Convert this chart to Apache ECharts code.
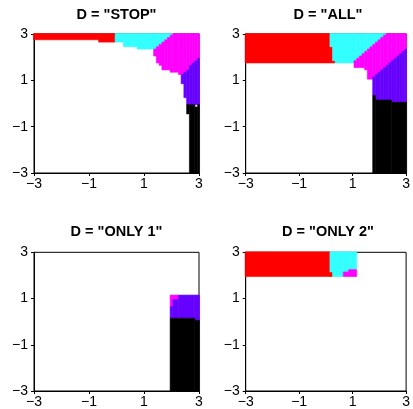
<!DOCTYPE html>
<html>
<head>
<meta charset="utf-8">
<script src="https://cdn.jsdelivr.net/npm/echarts@6/dist/echarts.min.js"></script>
<style>
html,body{margin:0;padding:0;background:#fff;}
#chart{width:413px;height:409px;}
</style>
</head>
<body>
<div id="chart"></div>
<script>
// ---- data (cell centres on a 0.1 grid; each run = [xFrom, xTo, yLow, yHigh]) ----
const PANEL_TITLES = ['D = "STOP"', 'D = "ALL"', 'D = "ONLY 1"', 'D = "ONLY 2"'];
const TICKS = [-3, -1, 1, 3];
const AXIS_MIN = -3, AXIS_MAX = 3, TICK_STEP = 2, CELL = 0.1;
const COLOR_NAMES = ['red', 'cyan', 'magenta', 'purple', 'black'];

const STOP_red = [[-3.0,-0.7,2.8,3.0],[-0.6,-0.1,2.7,3.0]];
const STOP_cyan = [[0.0,0.2,2.7,3.0],[0.3,0.7,2.5,3.0],[0.8,1.4,2.4,3.0],[1.5,1.5,2.5,3.0],[1.6,1.6,2.6,3.0],
  [1.7,1.7,2.7,3.0],[1.8,1.8,2.8,3.0],[1.9,1.9,2.9,3.0],[2.0,2.0,3.0,3.0]];
const STOP_magenta = [[1.4,1.4,2.1,2.3],[1.5,1.5,1.8,2.4],[1.6,1.6,1.7,2.5],[1.7,1.7,1.5,2.6],[1.8,1.8,1.5,2.7],
  [1.9,1.9,1.5,2.8],[2.0,2.0,1.4,2.9],[2.1,2.2,1.4,3.0],[2.3,2.4,1.3,3.0],[2.5,2.5,1.4,3.0],[2.6,2.6,1.5,3.0],
  [2.7,2.7,1.7,3.0],[2.8,2.8,1.8,3.0],[2.9,2.9,1.9,3.0],[3.0,3.0,2.0,3.0]];
const STOP_purple = [[2.4,2.4,0.9,1.2],[2.5,2.5,0.3,1.3],[2.6,2.6,0.0,1.4],[2.7,2.7,0.0,1.6],[2.8,2.8,0.0,1.7],
  [2.9,2.9,0.0,1.8],[3.0,3.0,0.0,1.9]];
const STOP_black = [[2.6,2.6,-0.4,-0.1],[2.7,2.8,-3.0,-0.1],[2.9,2.9,-3.0,-0.2],[3.0,3.0,-3.0,-0.1]];

const ALL_red = [[-3.0,0.1,1.8,3.0],[0.2,0.2,1.8,2.4],[0.3,0.3,1.8,1.8]];
const ALL_cyan = [[0.2,0.2,2.5,3.0],[0.3,0.3,1.9,3.0],[0.4,1.0,1.8,3.0],[1.1,1.1,1.9,3.0],[1.2,1.2,2.0,3.0],
  [1.3,1.3,2.1,3.0],[1.4,1.4,2.2,3.0],[1.5,1.5,2.3,3.0],[1.6,1.6,2.4,3.0],[1.7,1.7,2.5,3.0],[1.8,1.8,2.6,3.0],
  [1.9,1.9,2.7,3.0],[2.0,2.0,2.8,3.0],[2.1,2.1,2.9,3.0],[2.2,2.2,3.0,3.0]];
const ALL_magenta = [[1.1,1.1,1.6,1.8],[1.2,1.2,1.6,1.9],[1.3,1.3,1.6,2.0],[1.4,1.4,1.6,2.1],[1.5,1.5,1.5,2.2],
  [1.6,1.6,1.1,2.3],[1.7,1.7,1.1,2.4],[1.8,1.8,1.2,2.5],[1.9,1.9,1.3,2.6],[2.0,2.0,1.4,2.7],[2.1,2.1,1.5,2.8],
  [2.2,2.2,1.6,2.9],[2.3,2.3,1.7,3.0],[2.4,2.4,1.8,3.0],[2.5,2.5,1.9,3.0],[2.6,2.6,2.0,3.0],[2.7,2.7,2.1,3.0],
  [2.8,2.8,2.2,3.0],[2.9,2.9,2.3,3.0],[3.0,3.0,2.4,3.0]];
const ALL_purple = [[1.8,1.8,0.4,1.1],[1.9,1.9,0.2,1.2],[2.0,2.0,0.2,1.3],[2.1,2.1,0.2,1.4],[2.2,2.2,0.2,1.5],
  [2.3,2.3,0.2,1.6],[2.4,2.4,0.2,1.7],[2.5,2.5,0.1,1.8],[2.6,2.6,0.1,1.9],[2.7,2.7,0.1,2.0],[2.8,2.8,0.1,2.1],
  [2.9,2.9,0.1,2.2],[3.0,3.0,0.1,2.3]];
const ALL_black = [[1.8,1.8,-3.0,0.3],[1.9,2.4,-3.0,0.1],[2.5,3.0,-3.0,0.0]];

const ONLY1_red = [];
const ONLY1_cyan = [];
const ONLY1_magenta = [[2.0,2.0,0.7,1.1],[2.1,2.2,1.0,1.1]];
const ONLY1_purple = [[2.0,2.0,0.2,0.6],[2.1,2.2,0.2,0.9],[2.3,2.8,0.2,1.1],[2.9,3.0,0.1,1.1]];
const ONLY1_black = [[2.0,2.8,-3.0,0.1],[2.9,3.0,-3.0,0.0]];

const ONLY2_red = [[-3.0,0.1,2.0,3.0],[0.2,0.2,2.0,2.1]];
const ONLY2_cyan = [[0.2,0.2,2.2,3.0],[0.3,0.6,2.0,3.0],[0.7,0.8,2.2,3.0],[0.9,1.1,2.3,3.0]];
const ONLY2_magenta = [[0.7,0.8,2.0,2.1],[0.9,1.1,2.0,2.2]];
const ONLY2_purple = [];
const ONLY2_black = [];

// ---- presentation ----
const PALETTE = { red:'#FF0000', cyan:'#33FFFF', magenta:'#FF00FF', purple:'#6600FF', black:'#000000' };
const PANEL_DATA = [
  { red:STOP_red, cyan:STOP_cyan, magenta:STOP_magenta, purple:STOP_purple, black:STOP_black },
  { red:ALL_red, cyan:ALL_cyan, magenta:ALL_magenta, purple:ALL_purple, black:ALL_black },
  { red:ONLY1_red, cyan:ONLY1_cyan, magenta:ONLY1_magenta, purple:ONLY1_purple, black:ONLY1_black },
  { red:ONLY2_red, cyan:ONLY2_cyan, magenta:ONLY2_magenta, purple:ONLY2_purple, black:ONLY2_black }
];
const GRIDS = [
  { left:34, top:34, width:165, height:139 },
  { left:245.7, top:34, width:164.6, height:139 },
  { left:34, top:252.3, width:165, height:138.7 },
  { left:245.7, top:252.3, width:164.6, height:138.7 }
];
const TITLE_Y = [7, 7, 224, 224];
const FONT = 'Liberation Sans, Arial, Helvetica, sans-serif';

const fmt = v => (v < 0 ? '\u2212' + Math.abs(v) : String(v));
const half = CELL / 2;
const clampV = v => Math.max(AXIS_MIN - 0.02, Math.min(AXIS_MAX + 0.02, v));

function makeRender(color) {
  return function (params, api) {
    const x0 = clampV(api.value(0) - half), x1 = clampV(api.value(1) + half);
    const y0 = clampV(api.value(2) - half), y1 = clampV(api.value(3) + half);
    const p0 = api.coord([x0, y1]);
    const p1 = api.coord([x1, y0]);
    return {
      type: 'rect',
      shape: { x: p0[0], y: p0[1], width: p1[0] - p0[0], height: p1[1] - p0[1] },
      style: { fill: color, stroke: color, lineWidth: 0.6 }
    };
  };
}

const option = {
  animation: false,
  backgroundColor: '#fff',
  title: PANEL_TITLES.map((t, i) => ({
    text: t,
    left: GRIDS[i].left + GRIDS[i].width / 2,
    top: TITLE_Y[i],
    textAlign: 'center',
    padding: 0,
    textStyle: { fontFamily: FONT, fontSize: 14.5, fontWeight: 'bold', color: '#000' }
  })),
  grid: GRIDS.map(g => Object.assign({ show: true, borderColor: '#000', borderWidth: 1, backgroundColor: '#fff' }, g)),
  xAxis: GRIDS.map((g, i) => ({
    type: 'value', gridIndex: i, min: AXIS_MIN, max: AXIS_MAX, interval: TICK_STEP,
    axisLine: { show: true, onZero: false, lineStyle: { color: '#000', width: 1 } },
    axisTick: { show: true, length: 3, lineStyle: { color: '#000' } },
    splitLine: { show: false },
    axisLabel: { color: '#000', fontSize: 14, fontFamily: FONT, margin: 4, formatter: fmt, showMinLabel: true, showMaxLabel: true }
  })),
  yAxis: GRIDS.map((g, i) => ({
    type: 'value', gridIndex: i, min: AXIS_MIN, max: AXIS_MAX, interval: TICK_STEP,
    axisLine: { show: true, onZero: false, lineStyle: { color: '#000', width: 1 } },
    axisTick: { show: true, length: 3, lineStyle: { color: '#000' } },
    splitLine: { show: false },
    axisLabel: { color: '#000', fontSize: 14, fontFamily: FONT, margin: 6, formatter: fmt, showMinLabel: true, showMaxLabel: true }
  })),
  series: []
};

PANEL_DATA.forEach((pd, i) => {
  COLOR_NAMES.forEach(name => {
    option.series.push({
      type: 'custom',
      name: PANEL_TITLES[i] + ' ' + name,
      xAxisIndex: i, yAxisIndex: i,
      renderItem: makeRender(PALETTE[name]),
      data: pd[name],
      encode: { x: [0, 1], y: [2, 3] },
      silent: true
    });
  });
});

const chart = echarts.init(document.getElementById('chart'), null, { renderer: 'canvas' });
chart.setOption(option);
</script>
</body>
</html>
